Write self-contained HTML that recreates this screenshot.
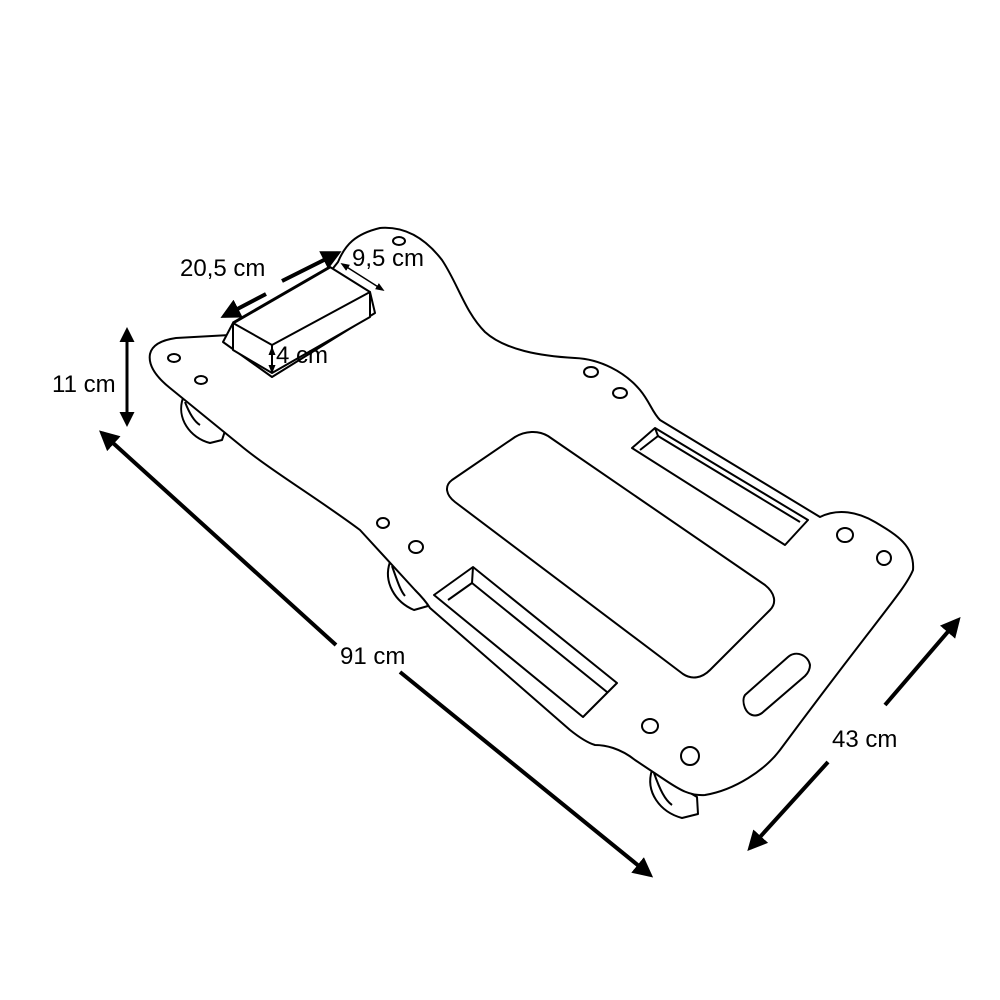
<!DOCTYPE html>
<html><head><meta charset="utf-8"><style>
html,body{margin:0;padding:0;background:#fff;}
svg{display:block;}
text{font-family:"Liberation Sans",Arial,sans-serif;font-size:24px;fill:#000;}
</style></head><body>
<svg width="1000" height="1000" viewBox="0 0 1000 1000" xmlns="http://www.w3.org/2000/svg">
<defs>
<marker id="ah" viewBox="0 0 10 10" refX="8" refY="5" markerWidth="5" markerHeight="5" orient="auto-start-reverse"><path d="M0,0 L10,5 L0,10 z" fill="#000"/></marker>
<marker id="ahs" viewBox="0 0 10 10" refX="8" refY="5" markerWidth="6" markerHeight="6" orient="auto-start-reverse"><path d="M0,1 L10,5 L0,9 z" fill="#000"/></marker>
</defs>
<g fill="none" stroke="#000" stroke-width="2" stroke-linejoin="round">
<!-- wheels -->
<path d="M183,398 C176,418 190,438 210,443 L222,440 L226,428 L208,408" fill="#fff"/>
<path d="M185,402 C190,415 195,422 200,425"/>
<path d="M390,562 C383,582 395,602 414,610 L428,606 L422,590 L402,570" fill="#fff"/>
<path d="M392,566 C397,580 400,590 405,596"/>
<path d="M652,770 C645,792 660,812 682,818 L698,814 L697,797 L672,782" fill="#fff"/>
<path d="M654,773 C660,790 665,800 672,805"/>
<!-- main outline -->
<path fill="#fff" d="M150,354 C152,345 162,340 176,338 L230,335 L272,345 L338,262 C345,245 355,234 380,228 C405,226 425,238 442,260 C458,284 465,312 485,332 C505,350 540,356 575,358 C600,359 625,372 640,390 C650,402 652,412 660,420 L820,517 C838,508 858,512 875,522 C895,534 915,545 913,570 C905,590 880,615 780,750 C765,770 735,790 705,795 C690,796 680,790 665,780 L635,760 C620,748 605,745 595,745 C588,743 580,738 570,730 L430,608 C425,600 420,595 415,590 L360,530 C320,500 270,470 240,445 L170,388 C155,376 148,365 150,354 Z"/>
<!-- pad -->
<path d="M452,480 L515,437 C525,431 538,430 548,436 L765,585 C775,593 777,603 770,610 L710,670 C702,678 692,680 683,674 L455,502 C446,495 444,486 452,480 Z"/>
<!-- upper slot -->
<path d="M632,448 L655,428 L808,520 L785,545 Z"/>
<path d="M640,450 L658,436 L800,522"/>
<path d="M658,436 L655,428"/>
<!-- lower slot -->
<path d="M434,595 L473,567 L617,683 L583,717 Z"/>
<path d="M448,600 L472,583 L607,692"/>
<path d="M472,583 L473,567"/>
<!-- handle slot -->
<path d="M745,695 L788,657 C796,650 808,655 810,665 C810,670 808,673 805,676 L762,713 C755,718 748,715 745,708 C743,703 743,698 745,695 Z"/>
<!-- headrest -->
<path fill="#fff" d="M223,342 L272,377 L375,313 L370,292 L233,323 Z"/>
<path fill="#fff" d="M233,323 L330,267 L370,292 L370,317 L272,373 L233,350 Z"/>
<path d="M233,323 L272,345 L370,292 M272,345 L272,373"/>
<path d="M233,323 L330,267" stroke-width="3"/>
</g>
<!-- holes -->
<g fill="#fff" stroke="#000" stroke-width="2">
<ellipse cx="174" cy="358" rx="6" ry="4"/>
<ellipse cx="201" cy="380" rx="6" ry="4"/>
<ellipse cx="399" cy="241" rx="6" ry="4"/>
<ellipse cx="383" cy="523" rx="6" ry="5"/>
<ellipse cx="416" cy="547" rx="7" ry="6"/>
<ellipse cx="591" cy="372" rx="7" ry="5"/>
<ellipse cx="620" cy="393" rx="7" ry="5"/>
<ellipse cx="845" cy="535" rx="8" ry="7"/>
<ellipse cx="884" cy="558" rx="7" ry="7"/>
<ellipse cx="650" cy="726" rx="8" ry="7"/>
<ellipse cx="690" cy="756" rx="9" ry="9"/>
</g>
<!-- dimensions -->
<g stroke="#000" fill="none">
<line x1="127" y1="330" x2="127" y2="424" stroke-width="3" marker-start="url(#ah)" marker-end="url(#ah)"/>
<line x1="336" y1="645" x2="102" y2="433" stroke-width="4" marker-end="url(#ah)"/>
<line x1="400" y1="672" x2="650" y2="875" stroke-width="4" marker-end="url(#ah)"/>
<line x1="885" y1="705" x2="958" y2="620" stroke-width="4" marker-end="url(#ah)"/>
<line x1="828" y1="762" x2="750" y2="848" stroke-width="4" marker-end="url(#ah)"/>
<line x1="266" y1="294" x2="224" y2="316" stroke-width="4" marker-end="url(#ah)"/>
<line x1="282" y1="281" x2="338" y2="253" stroke-width="4" marker-end="url(#ah)"/>
<line x1="342" y1="264" x2="383" y2="290" stroke-width="1.5" marker-start="url(#ahs)" marker-end="url(#ahs)"/>
<line x1="272" y1="348" x2="272" y2="372" stroke-width="1.5" marker-start="url(#ahs)" marker-end="url(#ahs)"/>
</g>
<text x="180" y="276">20,5 cm</text>
<text x="352" y="266">9,5 cm</text>
<text x="276" y="363">4 cm</text>
<text x="52" y="392">11 cm</text>
<text x="340" y="664">91 cm</text>
<text x="832" y="747">43 cm</text>
</svg>
</body></html>
